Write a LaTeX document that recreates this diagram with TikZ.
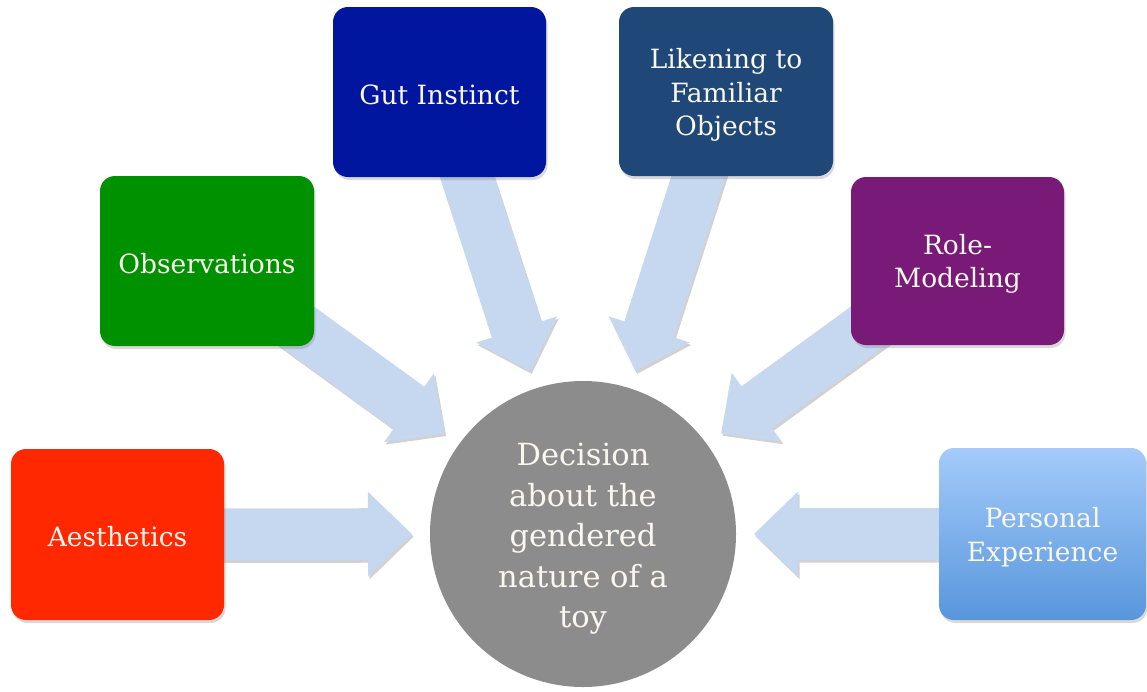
\documentclass[tikz,border=0pt]{standalone}
\usepackage{fontspec}
\setmainfont{DejaVu Serif}
\usetikzlibrary{calc,shadows}

\definecolor{aesred}{RGB}{255,40,0}
\definecolor{obsgreen}{RGB}{0,145,0}
\definecolor{gutblue}{RGB}{0,22,158}
\definecolor{likblue}{RGB}{31,72,120}
\definecolor{rolepurple}{RGB}{122,26,120}
\definecolor{perstop}{RGB}{164,203,250}
\definecolor{persbot}{RGB}{88,150,220}
\definecolor{arrowblue}{RGB}{198,215,240}
\definecolor{hubgray}{RGB}{140,140,140}
\definecolor{boxtext}{RGB}{250,247,238}

\pgfdeclarelayer{bg}
\pgfsetlayers{bg,main}

\tikzset{
  factor/.style={rectangle, rounded corners=15pt, inner sep=0pt,
    drop shadow={opacity=0.3, shadow xshift=1.5pt, shadow yshift=-3pt}},
  factortext/.style={text=boxtext, align=center, inner sep=0pt,
    font=\fontsize{26.5}{33.5}\selectfont},
  hub/.style={circle, fill=hubgray, minimum size=306pt, inner sep=0pt},
  hubtext/.style={text=boxtext, align=center, inner sep=0pt,
    font=\fontsize{30.5}{40.5}\selectfont},
  arrowbody/.style={fill=arrowblue,
    preaction={fill=black, opacity=0.18,
      transform canvas={shift={(1.5pt,-2.5pt)}}}}
}

% fat block arrow from the centre of node #1 to the tip coordinate #2
\newcommand\blockarrow[2]{%
  \coordinate (#2-hb) at ($(#2)!44pt!(#1.center)$);
  \fill[arrowbody]
    ($(#1.center)!26pt!90:(#2)$)
    -- ($(#2-hb)!26pt!-90:(#1.center)$)
    -- ($(#2-hb)!42.5pt!-90:(#1.center)$)
    -- (#2)
    -- ($(#2-hb)!42.5pt!90:(#1.center)$)
    -- ($(#2-hb)!26pt!90:(#1.center)$)
    -- ($(#1.center)!26pt!-90:(#2)$)
    -- cycle;
}

\begin{document}
\begin{tikzpicture}[x=1pt, y=-1pt]
  \useasboundingbox (0,0) rectangle (1147,691);

  % central decision
  \node[hub] (dec) at (583,534) {};
  \node[hubtext] (dec-text) at ($(dec.center)+(0,5)$)
    {Decision\\about the\\gendered\\nature of a\\toy};

  % contributing factors
  \node[factor, fill=aesred, minimum width=213pt, minimum height=171pt]
    (aes) at (117.5,534.5) {};
  \node[factor, fill=obsgreen, minimum width=214pt, minimum height=170pt]
    (obs) at (207,261) {};
  \node[factor, fill=gutblue, minimum width=213pt, minimum height=170pt]
    (gut) at (439.5,92) {};
  \node[factor, fill=likblue, minimum width=214pt, minimum height=169pt]
    (lik) at (726,91.5) {};
  \node[factor, fill=rolepurple, minimum width=213pt, minimum height=168pt]
    (role) at (957.5,261) {};
  \node[factor, top color=perstop, bottom color=persbot,
        minimum width=207pt, minimum height=172pt]
    (pers) at (1042.5,534) {};

  % box captions, set slightly below the box centres
  \node[factortext] (aes-text)  at ($(aes.center)+(0,2)$)  {Aesthetics};
  \node[factortext] (obs-text)  at ($(obs.center)+(0,3)$)  {Observations};
  \node[factortext] (gut-text)  at ($(gut.center)+(0,3)$)  {Gut Instinct};
  \node[factortext] (lik-text)  at ($(lik.center)+(0,3.5)$) {Likening to\\Familiar\\Objects};
  \node[factortext] (role-text) at ($(role.center)+(0,3)$) {Role-\\Modeling};
  \node[factortext] (pers-text) at ($(pers.center)+(0,3)$) {Personal\\Experience};

  % arrow tips sit just outside the hub
  \foreach \src in {aes,obs,gut,lik,role,pers}{
    \coordinate (\src-tip) at ($(dec.center)!171pt!(\src.center)$);
  }

  \begin{pgfonlayer}{bg}
    \foreach \src in {aes,obs,gut,lik,role,pers}{
      \blockarrow{\src}{\src-tip}
    }
  \end{pgfonlayer}
\end{tikzpicture}
\end{document}
